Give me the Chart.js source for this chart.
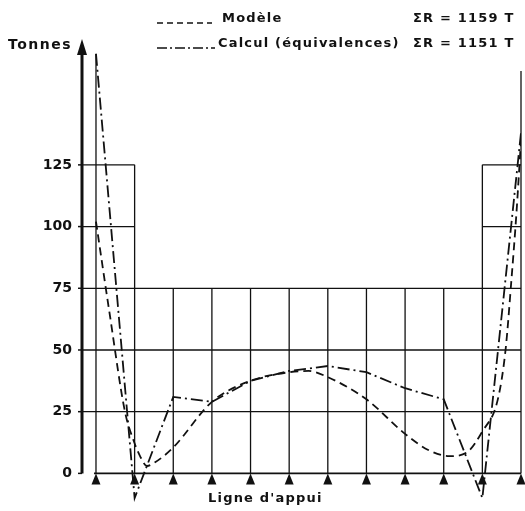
<!DOCTYPE html>
<html>
<head>
<meta charset="utf-8">
<script src="https://cdn.jsdelivr.net/npm/chart.js@4.4.1/dist/chart.umd.min.js"></script>
<style>
  body { margin: 0; background: #fff; }
  canvas { display: block; }
</style>
</head>
<body>
<canvas id="myChart" width="525" height="511"></canvas>
<script>
// appuis numérotés de gauche à droite
var appuis = [0, 1, 2, 3, 4, 5, 6, 7, 8, 9, 10, 11];
// Calcul (équivalences) : valeur à chaque appui
var calculValues = [170, -10, 31, 29, 37.5, 41.5, 43.5, 41, 34.5, 30, -10, 138];
// Modèle : points relevés le long de la courbe
var modeleX = [0, 0.36, 0.75, 0.98, 1.14, 1.32, 1.53, 2, 3, 4, 5, 5.5, 6, 7, 8, 8.6, 9.15, 9.6, 10, 10.4, 10.6, 10.75, 10.88, 11];
var modeleValues = [102, 64, 25, 13, 7, 3, 4.5, 10.5, 29, 37.5, 41, 41.5, 39, 30, 16, 9.5, 7, 8.5, 17, 30, 50, 78, 105, 135];
var yTicks = [0, 25, 50, 75, 100, 125];
// hauteur du trait vertical de chaque appui
var gridTops = [170, 125, 75, 75, 75, 75, 75, 75, 75, 75, 125, 163];
var legendLabels = ["Modèle", "Calcul (équivalences)"];
var legendSums = ["ΣR = 1159 T", "ΣR = 1151 T"];

var FONT = "'DejaVu Sans', sans-serif";

function line(ctx, x1, y1, x2, y2) {
  ctx.beginPath();
  ctx.moveTo(x1, y1);
  ctx.lineTo(x2, y2);
  ctx.stroke();
}

// grille des appuis, dessinée avec les échelles du graphique
var gridPlugin = {
  id: "grille",
  beforeDatasetsDraw: function(chart) {
    var ctx = chart.ctx;
    var xs = chart.scales.x, ys = chart.scales.y;
    var axisX = xs.getPixelForValue(xs.min);
    var first = xs.getPixelForValue(appuis[0]);
    var last = xs.getPixelForValue(appuis[appuis.length - 1]);
    var y0 = ys.getPixelForValue(0);
    ctx.save();
    ctx.strokeStyle = "#111";
    ctx.lineWidth = 1.3;
    // horizontales
    [25, 50, 75].forEach(function(v) {
      line(ctx, axisX, ys.getPixelForValue(v), last, ys.getPixelForValue(v));
    });
    [100, 125].forEach(function(v) {
      var y = ys.getPixelForValue(v);
      line(ctx, axisX, y, xs.getPixelForValue(appuis[1]), y);
      line(ctx, xs.getPixelForValue(appuis[10]), y, last, y);
    });
    ctx.lineWidth = 1.8;
    line(ctx, first - 2, y0, last, y0);
    // verticales
    ctx.lineWidth = 1.3;
    appuis.forEach(function(a, i) {
      var x = xs.getPixelForValue(a);
      line(ctx, x, y0, x, ys.getPixelForValue(gridTops[i]));
    });
    ctx.restore();
  },
  afterDraw: function(chart) {
    var ctx = chart.ctx;
    var xs = chart.scales.x, ys = chart.scales.y;
    var axisX = xs.getPixelForValue(xs.min);
    var y0 = ys.getPixelForValue(0);
    var top = ys.getPixelForValue(ys.max);
    ctx.save();
    ctx.fillStyle = "#111";
    ctx.strokeStyle = "#111";
    // appuis (triangles)
    appuis.forEach(function(a) {
      var x = xs.getPixelForValue(a);
      ctx.beginPath();
      ctx.moveTo(x, y0);
      ctx.lineTo(x - 4.5, y0 + 11);
      ctx.lineTo(x + 4.5, y0 + 11);
      ctx.closePath();
      ctx.fill();
    });
    // axe vertical avec flèche
    ctx.lineWidth = 3;
    line(ctx, axisX, y0, axisX, top + 10);
    ctx.beginPath();
    ctx.moveTo(axisX, top);
    ctx.lineTo(axisX - 5, top + 16);
    ctx.lineTo(axisX + 5, top + 16);
    ctx.closePath();
    ctx.fill();
    ctx.lineWidth = 1.5;
    ctx.font = "bold 14px " + FONT;
    ctx.textAlign = "right";
    ctx.textBaseline = "middle";
    yTicks.forEach(function(v) {
      var y = ys.getPixelForValue(v);
      line(ctx, axisX - 4, y, axisX, y);
      ctx.fillText(String(v), axisX - 10, y);
    });
    // textes
    ctx.textAlign = "left";
    ctx.letterSpacing = "1.5px";
    ctx.font = "bold 14px " + FONT;
    ctx.fillText("Tonnes", 8, 45);
    ctx.letterSpacing = "1.2px";
    ctx.font = "bold 13px " + FONT;
    ctx.fillText("Ligne d'appui", 208, 499);
    // légende
    var rows = [19, 44];
    ctx.lineWidth = 1.6;
    ctx.setLineDash([6, 4]);
    line(ctx, 157, rows[0] + 4, 212, rows[0] + 4);
    ctx.setLineDash([10, 3, 2, 3]);
    line(ctx, 157, rows[1] + 4, 215, rows[1] + 4);
    ctx.setLineDash([]);
    ctx.fillText(legendLabels[0], 222, rows[0]);
    ctx.fillText(legendLabels[1], 218, rows[1]);
    ctx.fillText(legendSums[0], 413, rows[0]);
    ctx.fillText(legendSums[1], 413, rows[1]);
    ctx.restore();
  }
};

function printChart() {
  var ctx = document.getElementById("myChart").getContext("2d");
  var modelePoints = modeleX.map(function(x, i) { return { x: x, y: modeleValues[i] }; });
  var calculPoints = appuis.map(function(x, i) { return { x: x, y: calculValues[i] }; });
  var myChart = new Chart(ctx, {
    type: "line",
    data: {
      datasets: [{
        label: legendLabels[0],
        data: modelePoints,
        borderColor: "#111",
        borderWidth: 1.8,
        borderDash: [8, 5],
        pointRadius: 0,
        cubicInterpolationMode: "monotone",
        fill: false
      }, {
        label: legendLabels[1],
        data: calculPoints,
        borderColor: "#111",
        borderWidth: 1.8,
        borderDash: [12, 4, 2, 4],
        pointRadius: 0,
        tension: 0,
        fill: false
      }]
    },
    options: {
      responsive: false,
      animation: false,
      layout: { padding: { left: 82, right: 4, top: 39, bottom: 8 } },
      plugins: { legend: { display: false }, tooltip: { enabled: false } },
      scales: {
        x: { type: "linear", min: -0.362, max: 11, display: false },
        y: { min: -12, max: 176, display: false }
      }
    },
    plugins: [gridPlugin]
  });
}

printChart();
</script>
</body>
</html>
